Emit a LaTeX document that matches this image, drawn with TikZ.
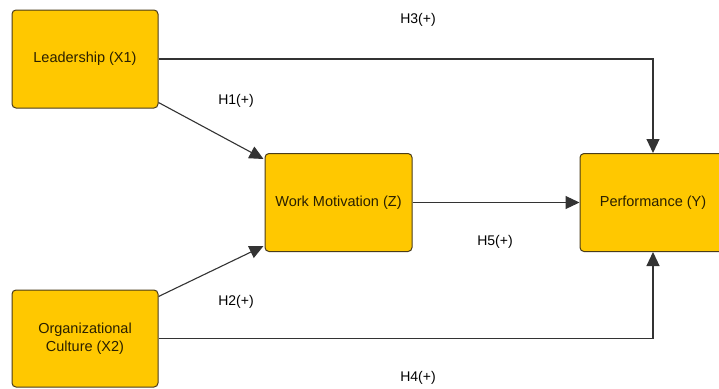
\documentclass[tikz,border=0pt]{standalone}
\usepackage{fontspec}
\setmainfont{Liberation Sans}
\usetikzlibrary{arrows.meta}
\definecolor{boxfill}{HTML}{FFC800}
\definecolor{boxline}{HTML}{4A3C1A}
\definecolor{txt}{HTML}{2A2000}
\definecolor{conn}{HTML}{333333}
\tikzset{
  var/.style={draw=boxline, line width=1pt, fill=boxfill, rounded corners=4pt,
    minimum width=146pt, minimum height=98pt, inner sep=2pt, align=center,
    text=txt, font=\fontsize{14.5}{18}\selectfont},
  conn/.style={draw=conn, line width=1.1pt, -{Triangle[length=14pt,width=13pt]}},
  hyp/.style={font=\fontsize{14}{16}\selectfont, text=black, inner sep=0pt}
}
\begin{document}
\begin{tikzpicture}[x=1pt,y=-1pt]
\clip (0,0) rectangle (719,388);
\fill[white] (0,0) rectangle (719,388);
\node[var] (lead) at (85,59) {Leadership (X1)};
\node[var, minimum height=97pt] (org) at (85,338.5) {Organizational\\Culture (X2)};
\node[var, minimum width=147pt] (wm) at (338.5,202.5) {Work Motivation (Z)};
\node[var] (perf) at (653,202.5) {Performance (Y)};
% connectors
\coordinate (h3c) at (perf.north |- lead.east);
\coordinate (h4c) at (perf.south |- org.east);
\draw[conn] (lead.east) -- (h3c) -- (perf.north);
\draw[conn] (org.east) -- (h4c) -- (perf.south);
\draw[conn] ([yshift=6pt]lead.south east) -- ([xshift=-1pt,yshift=-6pt]wm.north west);
\draw[conn] ([yshift=-7pt]org.north east) -- ([xshift=-1pt,yshift=6pt]wm.south west);
\draw[conn] (wm.east) -- (perf.west);
% labels
\node[hyp] (l3) at (418,20) {H3(+)};
\node[hyp] (l1) at (236,101) {H1(+)};
\node[hyp] (l2) at (236,302) {H2(+)};
\node[hyp] (l5) at (495,242) {H5(+)};
\node[hyp] (l4) at (418,378) {H4(+)};
\end{tikzpicture}
\end{document}
